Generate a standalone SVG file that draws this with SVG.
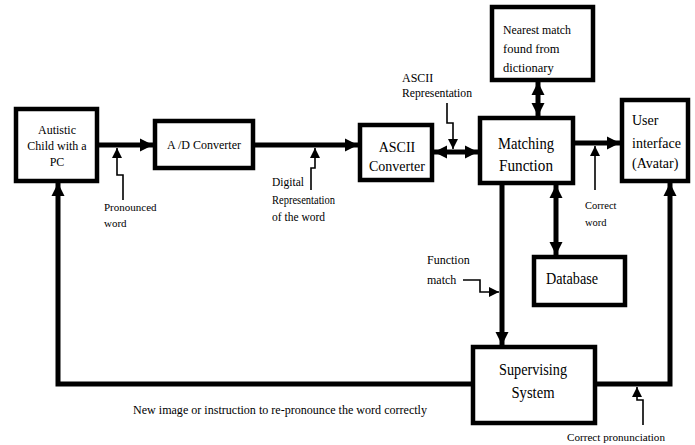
<svg xmlns="http://www.w3.org/2000/svg" width="695" height="445" viewBox="0 0 695 445" font-family="'Liberation Serif', 'Times New Roman', Times, 'DejaVu Serif', serif">
<style>
  .box { fill: #ffffff; stroke: #000000; stroke-width: 4.5; }
  .wire { fill: none; stroke: #000000; stroke-width: 5; }
  .ptr { fill: none; stroke: #000000; stroke-width: 1.6; }
  text { font-family: "Liberation Serif", "Times New Roman", Times, "DejaVu Serif", serif; fill: #000000; }
  .c { text-anchor: middle; }
</style>
<defs>
  <marker id="ah" markerUnits="userSpaceOnUse" markerWidth="14" markerHeight="14" refX="13" refY="7" orient="auto-start-reverse" viewBox="0 0 14 14">
    <path d="M0,0.5 L13,7 L0,13.5 Z" fill="#000000"/>
  </marker>
  <marker id="sh" markerUnits="userSpaceOnUse" markerWidth="10" markerHeight="12" refX="10" refY="5" orient="auto" viewBox="0 0 10 10">
    <path d="M0,0 L10,5 L0,10 Z" fill="#000000"/>
  </marker>
</defs>

<g id="connectors">
  <line class="wire" x1="99" y1="145" x2="153" y2="145" marker-end="url(#ah)"/>
  <line class="wire" x1="255" y1="145" x2="358" y2="145" marker-end="url(#ah)"/>
  <line class="wire" x1="434" y1="152" x2="478" y2="152" marker-start="url(#ah)" marker-end="url(#ah)"/>
  <line class="wire" x1="538" y1="82" x2="538" y2="116" marker-start="url(#ah)" marker-end="url(#ah)"/>
  <line class="wire" x1="575" y1="143" x2="620" y2="143" marker-end="url(#ah)"/>
  <line class="wire" x1="556" y1="185" x2="556" y2="255" marker-start="url(#ah)" marker-end="url(#ah)"/>
  <line class="wire" x1="502" y1="185" x2="502" y2="345" marker-end="url(#ah)"/>
  <path class="wire" d="M471,384 H58 V183" marker-end="url(#ah)"/>
  <path class="wire" d="M597,384 H670 V183" marker-end="url(#ah)"/>

  <path class="ptr" d="M123,200 V175 H117 V148" marker-end="url(#sh)"/>
  <path class="ptr" d="M311,190 V168 H315 V148" marker-end="url(#sh)"/>
  <path class="ptr" d="M447,103 V123 H453 V149" marker-end="url(#sh)"/>
  <path class="ptr" d="M595,190 V146" marker-end="url(#sh)"/>
  <path class="ptr" d="M463,280 H480 V292 H499" marker-end="url(#sh)"/>
  <path class="ptr" d="M643,425 V400 H637 V387" marker-end="url(#sh)"/>
</g>

<g id="child">
  <rect class="box" x="16" y="109" width="81" height="72"/>
  <text class="c" x="57" y="134" font-size="12">Autistic</text>
  <text class="c" x="57" y="150" font-size="12">Child with a</text>
  <text class="c" x="57" y="166" font-size="12">PC</text>
</g>

<g id="adconverter">
  <rect class="box" x="155" y="121" width="98" height="47"/>
  <text x="167" y="149" font-size="12.5" textLength="74" lengthAdjust="spacingAndGlyphs">A /D Converter</text>
</g>

<g id="asciiconverter">
  <rect class="box" x="360" y="125" width="72" height="55"/>
  <text class="c" x="397" y="152" font-size="14">ASCII</text>
  <text class="c" x="397" y="171" font-size="14">Converter</text>
</g>

<g id="nearest">
  <rect class="box" x="492" y="7" width="101" height="73"/>
  <text x="503" y="34" font-size="12.5" textLength="68" lengthAdjust="spacingAndGlyphs">Nearest match</text>
  <text x="503" y="53" font-size="12.5">found from</text>
  <text x="503" y="72" font-size="12.5">dictionary</text>
</g>

<g id="matching">
  <rect class="box" x="480" y="118" width="93" height="65"/>
  <text class="c" x="526" y="149" font-size="17" textLength="56" lengthAdjust="spacingAndGlyphs">Matching</text>
  <text class="c" x="526" y="171" font-size="17" textLength="54" lengthAdjust="spacingAndGlyphs">Function</text>
</g>

<g id="userinterface">
  <rect class="box" x="622" y="100" width="66" height="81"/>
  <text x="632" y="125" font-size="14">User</text>
  <text x="632" y="148" font-size="14">interface</text>
  <text x="632" y="168" font-size="14">(Avatar)</text>
</g>

<g id="database">
  <rect class="box" x="534" y="257" width="91" height="48"/>
  <text x="546" y="284" font-size="16" textLength="52" lengthAdjust="spacingAndGlyphs">Database</text>
</g>

<g id="supervising">
  <rect class="box" x="473" y="347" width="122" height="76"/>
  <text class="c" x="533" y="375" font-size="17" textLength="68" lengthAdjust="spacingAndGlyphs">Supervising</text>
  <text class="c" x="533" y="398" font-size="17" textLength="43" lengthAdjust="spacingAndGlyphs">System</text>
</g>

<g id="labels">
  <text x="104" y="211" font-size="11">Pronounced</text>
  <text x="104" y="227" font-size="11">word</text>
  <text x="272" y="186" font-size="11.5">Digital</text>
  <text x="272" y="204" font-size="11.5" textLength="63" lengthAdjust="spacingAndGlyphs">Representation</text>
  <text x="272" y="221" font-size="11.5">of the word</text>
  <text x="402" y="82" font-size="12">ASCII</text>
  <text x="402" y="97" font-size="12" textLength="70" lengthAdjust="spacingAndGlyphs">Representation</text>
  <text x="585" y="209" font-size="10.5">Correct</text>
  <text x="585" y="226" font-size="10.5">word</text>
  <text x="427" y="264" font-size="12">Function</text>
  <text x="427" y="284" font-size="12">match</text>
  <text x="133" y="414" font-size="12.5" textLength="294" lengthAdjust="spacingAndGlyphs">New image or instruction to re-pronounce the word correctly</text>
  <text x="567" y="441" font-size="11" textLength="98" lengthAdjust="spacingAndGlyphs">Correct pronunciation</text>
</g>
</svg>
